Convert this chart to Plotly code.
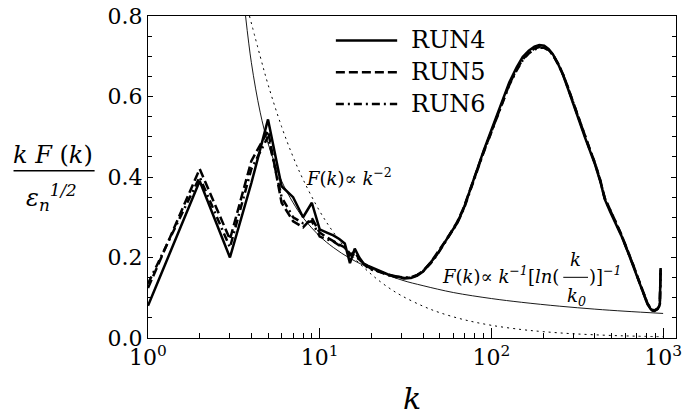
import plotly.graph_objects as go

# ---------------- data ----------------
k_run4 = [1, 2, 3, 4, 5, 6, 7, 8, 9, 10, 11, 12, 13, 14, 15, 16, 17, 18, 19, 20,
          22, 25, 28, 31, 34, 37, 40, 44, 48, 53, 57, 63, 69, 75, 82, 90, 98, 107,
          117, 127, 140, 152, 165, 178, 190, 203, 215, 228, 245, 262, 280, 300, 325,
          351, 375, 400, 430, 457, 490, 530, 570, 622, 665, 711, 760, 811, 845, 867,
          890, 927, 945, 957, 967]
run4 = [0.080, 0.390, 0.200, 0.385, 0.543, 0.377, 0.350, 0.300, 0.336, 0.270,
        0.262, 0.255, 0.246, 0.235, 0.186, 0.222, 0.200, 0.185, 0.180, 0.176,
        0.168, 0.158, 0.153, 0.149, 0.149, 0.155, 0.165, 0.185, 0.206, 0.235,
        0.255, 0.285, 0.322, 0.368, 0.417, 0.465, 0.507, 0.550, 0.595, 0.635,
        0.672, 0.698, 0.714, 0.724, 0.728, 0.726, 0.718, 0.705, 0.680, 0.652,
        0.618, 0.580, 0.540, 0.498, 0.465, 0.433, 0.390, 0.345, 0.315, 0.285,
        0.255, 0.215, 0.182, 0.149, 0.115, 0.084, 0.072, 0.068, 0.067, 0.072,
        0.077, 0.085, 0.174]

k_run5 = k_run4
run5 = [0.124, 0.420, 0.245, 0.440, 0.515, 0.336, 0.290, 0.275, 0.298, 0.262,
        0.250, 0.240, 0.232, 0.225, 0.205, 0.215, 0.195, 0.185, 0.178, 0.172,
        0.165, 0.157, 0.151, 0.148, 0.150, 0.156, 0.167, 0.186, 0.208, 0.236,
        0.257, 0.287, 0.324, 0.368, 0.415, 0.462, 0.503, 0.546, 0.590, 0.630,
        0.667, 0.692, 0.709, 0.719, 0.723, 0.722, 0.716, 0.704, 0.681, 0.654,
        0.621, 0.584, 0.543, 0.502, 0.468, 0.436, 0.393, 0.348, 0.318, 0.288,
        0.258, 0.218, 0.185, 0.151, 0.117, 0.086, 0.074, 0.070, 0.069, 0.073,
        0.078, 0.086, 0.170]

k_run6 = k_run4
run6 = [0.135, 0.400, 0.225, 0.420, 0.500, 0.350, 0.300, 0.285, 0.290, 0.252,
        0.245, 0.240, 0.230, 0.225, 0.210, 0.205, 0.195, 0.185, 0.175, 0.170,
        0.166, 0.156, 0.152, 0.150, 0.151, 0.157, 0.166, 0.184, 0.205, 0.233,
        0.254, 0.284, 0.320, 0.365, 0.413, 0.461, 0.502, 0.545, 0.589, 0.628,
        0.664, 0.690, 0.707, 0.717, 0.721, 0.721, 0.715, 0.703, 0.680, 0.653,
        0.620, 0.583, 0.542, 0.500, 0.467, 0.435, 0.392, 0.347, 0.317, 0.287,
        0.257, 0.217, 0.184, 0.150, 0.116, 0.085, 0.073, 0.069, 0.068, 0.072,
        0.077, 0.084, 0.168]

# guide line F(k) ~ k^-2  (dotted)
k_pow2 = [3.9, 4.5, 5, 6, 7, 8, 10, 12, 15, 20, 25, 30, 40, 50, 70, 100, 150,
          200, 300, 500, 700, 1000]
pow2 = [0.80, 0.70, 0.63, 0.525, 0.45, 0.394, 0.315, 0.263, 0.21, 0.158, 0.126,
        0.105, 0.079, 0.063, 0.045, 0.0315, 0.021, 0.0158, 0.0105, 0.0063,
        0.0045, 0.0032]

# guide line F(k) ~ k^-1 [ln(k/k0)]^-1  (thin solid)
k_log = [3.7, 4, 4.5, 5, 6, 7, 8, 10, 12, 15, 20, 30, 40, 60, 100, 150, 250,
         400, 600, 1000]
logline = [0.80, 0.684, 0.561, 0.484, 0.39, 0.336, 0.299, 0.253, 0.225, 0.198,
           0.172, 0.144, 0.130, 0.113, 0.098, 0.0887, 0.079, 0.0717, 0.0665,
           0.061]

series_names = ["RUN4", "RUN5", "RUN6"]
x_tickvals = [1, 10, 100, 1000]
x_ticktext = ["10<sup>0</sup>", "10<sup>1</sup>", "10<sup>2</sup>", "10<sup>3</sup>"]
x_minor = [m * 10 ** e for e in range(0, 4) for m in range(2, 10)]
y_tickvals = [0, 0.2, 0.4, 0.6, 0.8]
y_ticktext = ["0.0", "0.2", "0.4", "0.6", "0.8"]

FONT = "DejaVu Serif"
W, H = 686, 420
L, R, T, B = 148, 682, 9, 338


def px(x):
    return (x - L) / (R - L)


def py(y):
    return (B - y) / (B - T)


dashes = ["solid", "9px,4px", "8px,4px,2px,4px"]

fig = go.Figure()
fig.add_trace(go.Scatter(x=k_pow2, y=pow2, mode="lines", line_shape="spline",
                         line=dict(color="black", width=1, dash="2px,4px"),
                         showlegend=False))
fig.add_trace(go.Scatter(x=k_log, y=logline, mode="lines", line_shape="spline",
                         line=dict(color="black", width=0.9),
                         showlegend=False))
for name, xs, ys, d in zip(series_names, [k_run4, k_run5, k_run6],
                           [run4, run5, run6], dashes):
    fig.add_trace(go.Scatter(x=xs, y=ys, mode="lines", name=name,
                             line=dict(color="black", width=2.5, dash=d),
                             showlegend=False))

# manual legend
shapes = []
annotations = []
for i, (name, d) in enumerate(zip(series_names, dashes)):
    yy = 34 + i * 32.5
    shapes.append(dict(type="line", xref="paper", yref="paper",
                       x0=px(338), x1=px(400), y0=py(yy), y1=py(yy),
                       line=dict(color="black", width=2.5, dash=d)))
    annotations.append(dict(text=name, xref="paper", yref="paper",
                            x=px(412), y=py(yy), xanchor="left", yanchor="middle",
                            showarrow=False, font=dict(family=FONT, size=24, color="black")))

# y-axis label as a fraction
annotations.append(dict(text="<i>k F </i>(<i>k</i>)", xref="paper", yref="paper",
                        x=px(52), y=py(151), xanchor="center", yanchor="middle",
                        showarrow=False, font=dict(family=FONT, size=24, color="black")))
shapes.append(dict(type="line", xref="paper", yref="paper",
                   x0=px(12), x1=px(94), y0=py(167), y1=py(167),
                   line=dict(color="black", width=1.5)))
annotations.append(dict(text="<i>ε<sub>n</sub><sup>1/2</sup></i>", xref="paper", yref="paper",
                        x=px(50), y=py(194), xanchor="center", yanchor="middle",
                        showarrow=False, font=dict(family=FONT, size=24, color="black")))

# x-axis label
annotations.append(dict(text="<i>k</i>", xref="paper", yref="paper",
                        x=px(415), y=py(400), xanchor="center", yanchor="middle",
                        showarrow=False, font=dict(family=FONT, size=30, color="black")))

# guide-line labels
annotations.append(dict(text="<i>F</i>(<i>k</i>)∝ <i>k</i><sup>−2</sup>",
                        xref="paper", yref="paper", x=px(306), y=py(173),
                        xanchor="left", yanchor="middle", showarrow=False,
                        font=dict(family=FONT, size=18, color="black")))
annotations.append(dict(text="<i>F</i>(<i>k</i>)∝ <i>k</i><sup><i>−1</i></sup>[<i>ln</i>(",
                        xref="paper", yref="paper", x=px(443), y=py(274),
                        xanchor="left", yanchor="middle", showarrow=False,
                        font=dict(family=FONT, size=18, color="black")))
annotations.append(dict(text="<i>k</i>", xref="paper", yref="paper",
                        x=px(580), y=py(258), xanchor="center", yanchor="middle",
                        showarrow=False, font=dict(family=FONT, size=18, color="black")))
shapes.append(dict(type="line", xref="paper", yref="paper",
                   x0=px(568), x1=px(593), y0=py(276), y1=py(276),
                   line=dict(color="black", width=1)))
annotations.append(dict(text="<i>k</i><sub><i>0</i></sub>", xref="paper", yref="paper",
                        x=px(581), y=py(296), xanchor="center", yanchor="middle",
                        showarrow=False, font=dict(family=FONT, size=18, color="black")))
annotations.append(dict(text=")]<sup><i>−1</i></sup>", xref="paper", yref="paper",
                        x=px(592), y=py(274), xanchor="left", yanchor="middle",
                        showarrow=False, font=dict(family=FONT, size=18, color="black")))

fig.update_layout(
    width=W, height=H,
    margin=dict(l=L, r=W - R, t=T, b=H - B),
    paper_bgcolor="white", plot_bgcolor="white",
    font=dict(family=FONT, size=22, color="black"),
    shapes=shapes, annotations=annotations,
    showlegend=False,
    xaxis=dict(type="log", range=[0, 3.075], tickvals=x_tickvals, ticktext=x_ticktext,
               ticks="inside", ticklen=10, tickwidth=1, tickcolor="black",
               showline=True, linecolor="black", linewidth=1, mirror=True,
               showgrid=False, zeroline=False, ticklabeloverflow="allow",
               tickfont=dict(family=FONT, size=22, color="black"),
               minor=dict(tickvals=x_minor, ticks="inside", ticklen=5,
                          tickcolor="black", showgrid=False)),
    yaxis=dict(range=[0, 0.8], tickvals=y_tickvals, ticktext=y_ticktext,
               ticks="inside", ticklen=5, tickwidth=1, tickcolor="black",
               showline=True, linecolor="black", linewidth=1, mirror="ticks",
               showgrid=False, zeroline=False, ticklabeloverflow="allow",
               tickfont=dict(family=FONT, size=22, color="black"),
               minor=dict(dtick=0.05, ticks="inside", ticklen=4,
                          tickcolor="black", showgrid=False)),
)

fig.write_html("out.html", config={"displayModeBar": False},
               post_script="document.body.style.margin='0px';document.body.style.padding='0px';")
